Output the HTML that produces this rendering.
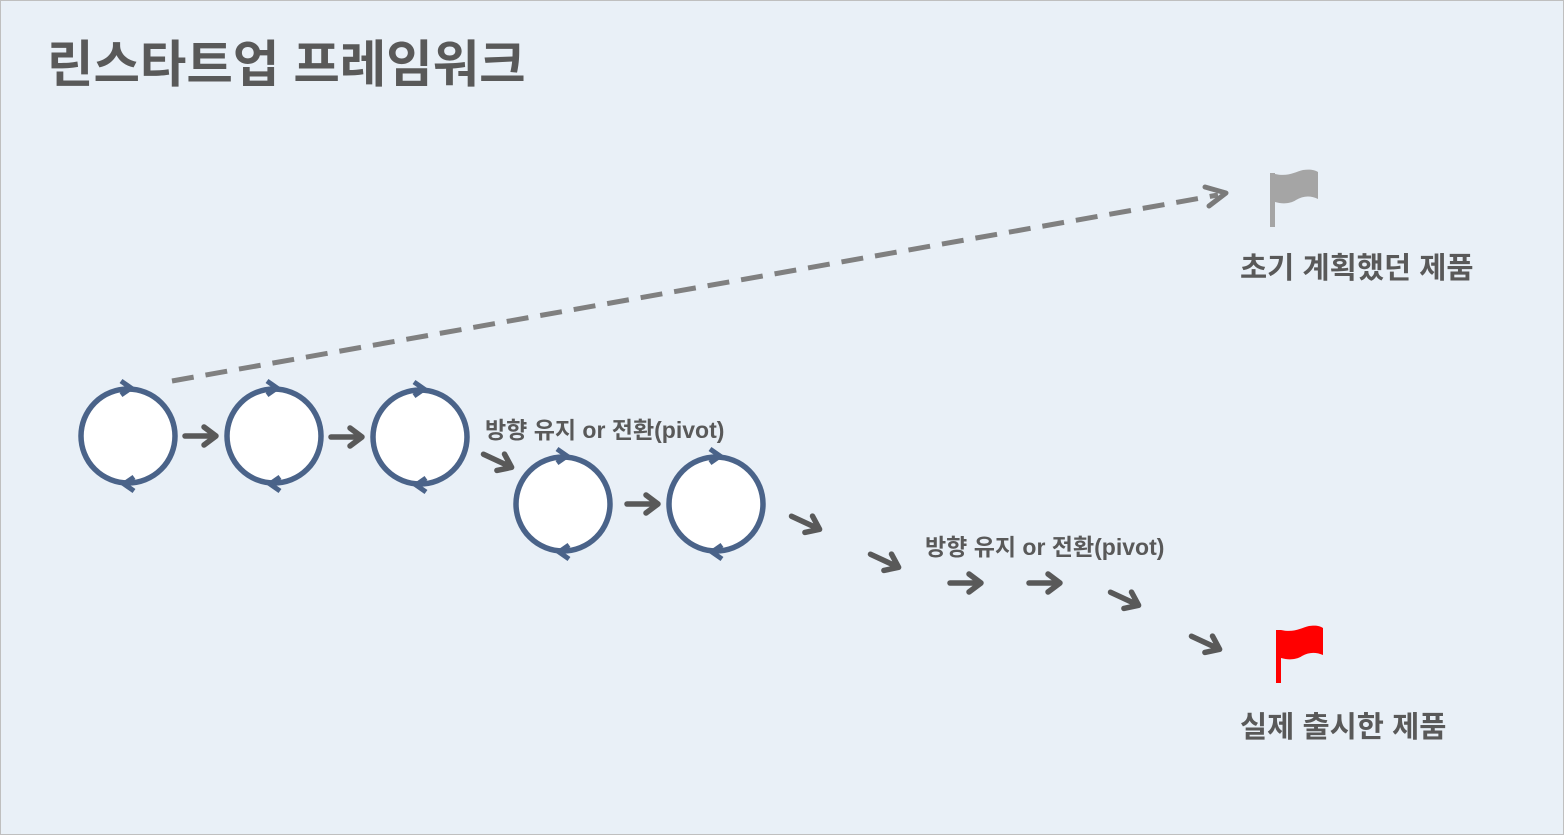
<!DOCTYPE html>
<html><head><meta charset="utf-8"><style>
html,body{margin:0;padding:0;background:#e9f0f7;}
.wrap{position:relative;width:1562px;height:833px;border:1px solid #bfbfbf;background:#e9f0f7;overflow:hidden;font-family:"Liberation Sans","Noto Sans CJK KR","NanumGothic",sans-serif;font-weight:bold;color:#595959;}
.t{position:absolute;white-space:nowrap;}
</style></head><body><div class="wrap">
<div class="t" style="left:46px;top:22px;font-size:50.5px;">린스타트업 프레임워크</div>
<div class="t" style="left:1239px;top:244px;font-size:29.5px;">초기 계획했던 제품</div>
<div class="t" style="left:1239px;top:703px;font-size:29.5px;">실제 출시한 제품</div>
<div class="t" style="left:484px;top:410px;font-size:23px;">방향 유지 or 전환(pivot)</div>
<div class="t" style="left:924px;top:527px;font-size:23px;">방향 유지 or 전환(pivot)</div>
<svg width="1564" height="835" style="position:absolute;left:-1px;top:-1px">
<line x1="172" y1="381" x2="1218" y2="195" stroke="#808080" stroke-width="5" stroke-dasharray="22,12"/>
<path d="M1205 187 L1226 193 L1209 206" fill="none" stroke="#7a7a7a" stroke-width="5" stroke-linecap="round" stroke-linejoin="round"/>
<g fill="none" stroke="#4a6389" stroke-width="5.5">
<circle cx="128" cy="436" r="47" fill="#fff"/>
<circle cx="274" cy="436" r="47" fill="#fff"/>
<circle cx="420" cy="437" r="47" fill="#fff"/>
<circle cx="563" cy="504" r="47" fill="#fff"/>
<circle cx="716" cy="504" r="47" fill="#fff"/>
</g>
<g fill="none" stroke="#4a6389" stroke-width="5" stroke-linejoin="miter">
<path d="M121 381 L131 388 L121 395"/><path d="M134 477 L124 484 L134 491"/>
<path d="M267 381 L277 388 L267 395"/><path d="M280 477 L270 484 L280 491"/>
<path d="M414 382 L424 389 L414 396"/><path d="M426 478 L416 485 L426 492"/>
<path d="M557 449 L567 456 L557 463"/><path d="M569 545 L559 552 L569 559"/>
<path d="M710 449 L720 456 L710 463"/><path d="M722 545 L712 552 L722 559"/>
</g>
<g fill="none" stroke="#595959" stroke-width="5.5" stroke-linecap="round" stroke-linejoin="round">
<g transform="translate(201,436)"><path d="M-16 0 H14 M3 -9 L15 0 L3 9"/></g>
<g transform="translate(347,437)"><path d="M-16 0 H14 M3 -9 L15 0 L3 9"/></g>
<g transform="translate(498,461) rotate(25)"><path d="M-16 0 H14 M3 -9 L15 0 L3 9"/></g>
<g transform="translate(643,504)"><path d="M-16 0 H14 M3 -9 L15 0 L3 9"/></g>
<g transform="translate(806,523) rotate(25)"><path d="M-16 0 H14 M3 -9 L15 0 L3 9"/></g>
<g transform="translate(885,561) rotate(25)"><path d="M-16 0 H14 M3 -9 L15 0 L3 9"/></g>
<g transform="translate(966,583)"><path d="M-16 0 H14 M3 -9 L15 0 L3 9"/></g>
<g transform="translate(1045,583)"><path d="M-16 0 H14 M3 -9 L15 0 L3 9"/></g>
<g transform="translate(1125,599) rotate(25)"><path d="M-16 0 H14 M3 -9 L15 0 L3 9"/></g>
<g transform="translate(1206,643) rotate(25)"><path d="M-16 0 H14 M3 -9 L15 0 L3 9"/></g>
</g>
<g fill="#a5a5a5">
<rect x="1270" y="173" width="5" height="54"/>
<path d="M1275 174 C1288 177 1295 172 1303 170 C1310 169 1315 170 1318 172 L1318 199 C1310 195 1303 196 1296 200 C1290 204 1282 204 1275 202 Z"/>
</g>
<g fill="#ff0000">
<rect x="1276" y="630" width="5" height="53"/>
<path d="M1281 630 C1294 633 1301 628 1309 626 C1316 625 1320 626 1323 628 L1323 655 C1316 652 1309 652 1302 656 C1296 660 1288 660 1281 658 Z"/>
</g>
</svg>
</div></body></html>
